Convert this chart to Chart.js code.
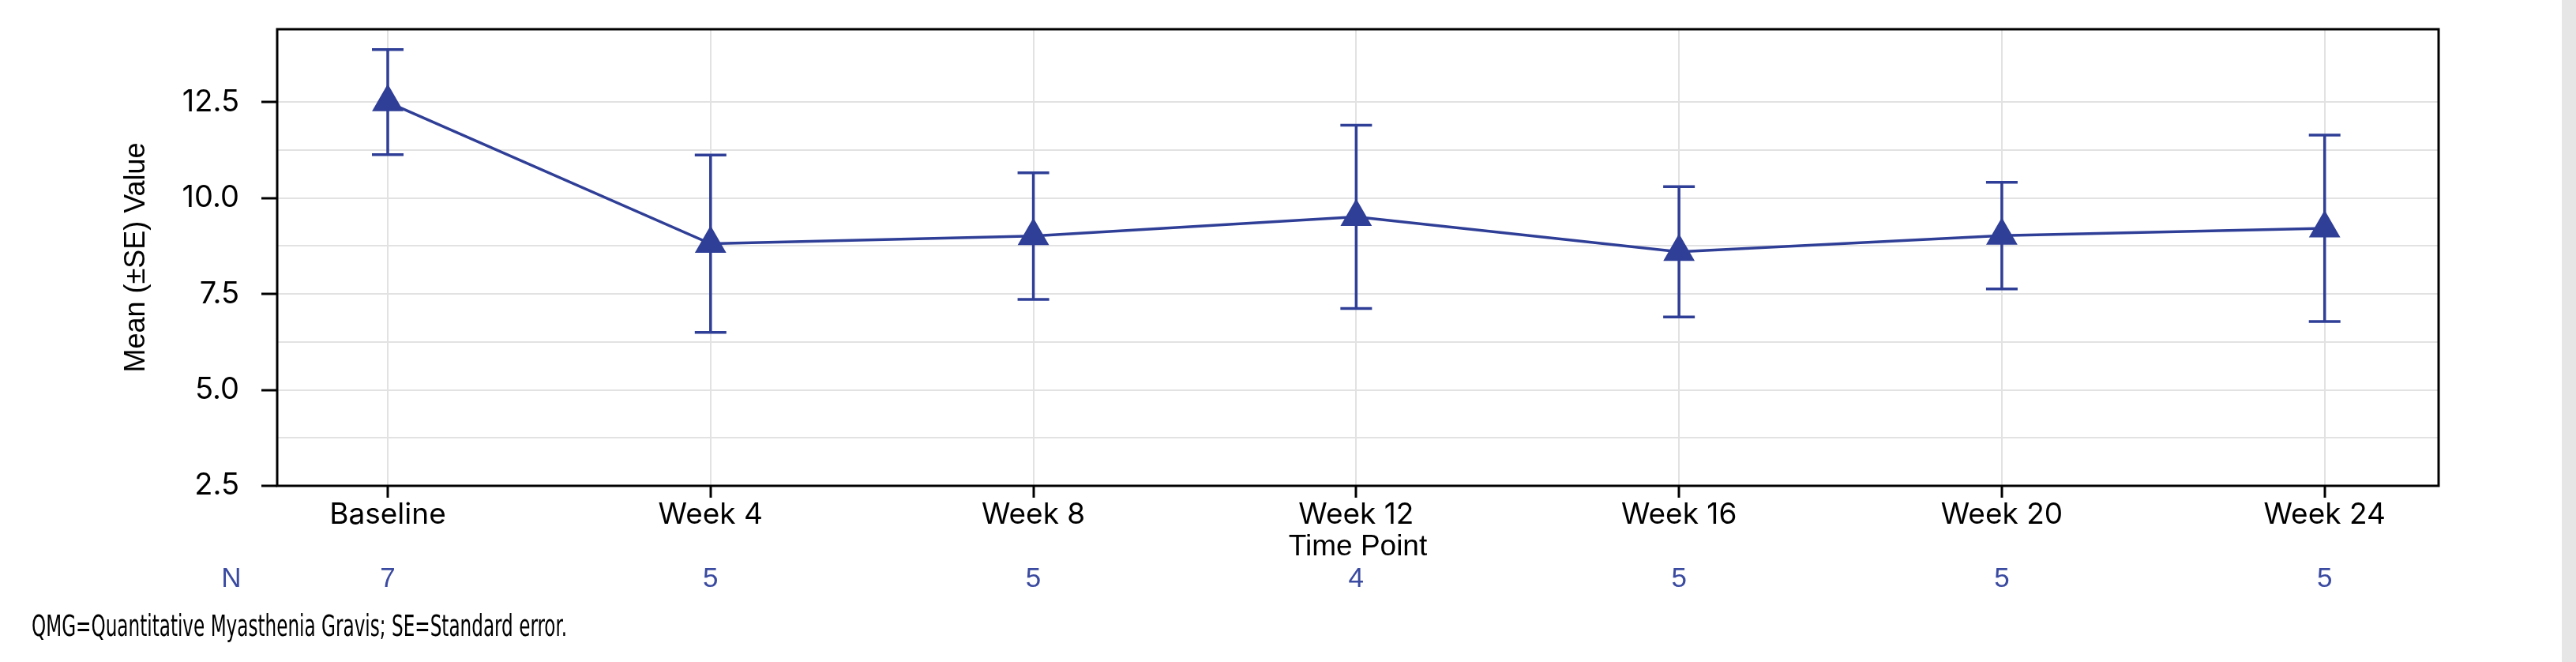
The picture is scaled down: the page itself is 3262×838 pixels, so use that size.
<!DOCTYPE html>
<html>
<head>
<meta charset="utf-8">
<title>Mean (±SE) Value by Time Point</title>
<script src="https://cdn.jsdelivr.net/npm/chart.js@4.4.1/dist/chart.umd.min.js"></script>
<style>
    html, body { margin: 0; padding: 0; background: #ffffff; }
    #wrap { position: relative; width: 3244px; height: 838px; }
    #strip { position: absolute; left: 3244px; top: 0; width: 18px; height: 838px; background: #e6e6e6; }
</style>
</head>
<body>
<div id="wrap"><canvas id="meanChart"></canvas></div>
<div id="strip"></div>
<script>
// data
const timePoints = ['Baseline', 'Week 4', 'Week 8', 'Week 12', 'Week 16', 'Week 20', 'Week 24'];
const meanValues = [12.5, 8.81, 9.01, 9.51, 8.6, 9.02, 9.21];
const seValues = [1.37, 2.31, 1.65, 2.39, 1.7, 1.39, 2.43];
const nCounts = [7, 5, 5, 4, 5, 5, 5];
const yTickLabels = [2.5, 5.0, 7.5, 10.0, 12.5];
const footnote = 'QMG=Quantitative Myasthenia Gravis; SE=Standard error.';

const blue = '#2f3e96';
const nBlue = '#3a4aa0';
const gridGray = '#e2e2e2';
const font = "'Liberation Sans', Arial, sans-serif";
const tickFont = "Inter, 'Liberation Sans', sans-serif";

// error bars (±SE), drawn through the chart's scales
const errorBars = {
    id: 'errorBars',
    beforeDatasetsDraw(chart) {
        const { ctx, scales: { x, y } } = chart;
        ctx.save();
        ctx.strokeStyle = blue;
        ctx.lineWidth = 3.5;
        meanValues.forEach((m, i) => {
            const px = x.getPixelForValue(i);
            const top = y.getPixelForValue(m + seValues[i]);
            const bot = y.getPixelForValue(m - seValues[i]);
            ctx.beginPath();
            ctx.moveTo(px, top);
            ctx.lineTo(px, bot);
            ctx.moveTo(px - 20, top);
            ctx.lineTo(px + 20, top);
            ctx.moveTo(px - 20, bot);
            ctx.lineTo(px + 20, bot);
            ctx.stroke();
        });
        ctx.restore();
    }
};

// plot frame, N row and footnote
const extras = {
    id: 'extras',
    afterDraw(chart) {
        const { ctx, chartArea: a, scales: { x } } = chart;
        ctx.save();
        ctx.strokeStyle = '#000000';
        ctx.lineWidth = 3;
        ctx.strokeRect(a.left, a.top, a.right - a.left, a.bottom - a.top);

        ctx.fillStyle = nBlue;
        ctx.font = '35px ' + font;
        ctx.textAlign = 'center';
        ctx.textBaseline = 'alphabetic';
        ctx.fillText('N', 293, 743);
        nCounts.forEach((n, i) => {
            ctx.fillText(String(n), x.getPixelForValue(i), 743);
        });

        ctx.fillStyle = '#000000';
        ctx.font = "37px 'Liberation Sans Narrow', 'DejaVu Sans Condensed', sans-serif";
        ctx.textAlign = 'left';
        const w = ctx.measureText(footnote).width;
        ctx.translate(40, 805);
        ctx.scale(678 / w, 1);
        ctx.fillText(footnote, 0, 0);
        ctx.restore();
    }
};

// Chart.js
let meanContext = document.getElementById('meanChart');

let meanChart = new Chart(meanContext, {
    type: 'line',
    data: {
        datasets: [{
            data: meanValues.map((m, i) => ({ x: i, y: m })),
            borderColor: blue,
            backgroundColor: blue,
            borderWidth: 3.5,
            pointStyle: 'triangle',
            pointRadius: 23,
            pointBorderWidth: 0,
            tension: 0
        }]
    },
    options: {
        responsive: true,
        maintainAspectRatio: false,
        animation: false,
        layout: { padding: { top: 37, right: 156, bottom: 123, left: 0 } },
        plugins: {
            legend: { display: false },
            tooltip: { enabled: false }
        },
        scales: {
            x: {
                type: 'linear',
                min: -0.3425,
                max: 6.353,
                afterBuildTicks: axis => {
                    axis.ticks = timePoints.map((_, i) => ({ value: i }));
                },
                afterFit: axis => { axis.height = 100; },
                border: { display: false },
                grid: {
                    color: gridGray,
                    lineWidth: 2,
                    tickLength: 15,
                    tickColor: '#000000',
                    tickWidth: 3
                },
                ticks: {
                    autoSkip: false,
                    maxRotation: 0,
                    padding: 0,
                    color: '#000000',
                    font: { family: tickFont, size: 37 },
                    callback: v => timePoints[v]
                },
                title: {
                    display: true,
                    text: 'Time Point',
                    color: '#000000',
                    font: { family: font, size: 37 },
                    padding: { top: 0, bottom: 0 }
                }
            },
            y: {
                min: 2.5,
                max: 14.4,
                afterFit: axis => {
                    axis.width = 351;
                    axis.paddingTop = 0;
                    axis.paddingBottom = 0;
                },
                border: { display: false },
                grid: {
                    color: gridGray,
                    lineWidth: 2,
                    tickLength: 20,
                    tickWidth: 3,
                    tickColor: c => yTickLabels.includes(c.tick.value) ? '#000000' : 'rgba(0,0,0,0)'
                },
                ticks: {
                    stepSize: 1.25,
                    padding: 28,
                    color: '#000000',
                    font: { family: tickFont, size: 38 },
                    callback: v => yTickLabels.includes(v) ? v.toFixed(1) : ''
                },
                title: {
                    display: true,
                    text: 'Mean (±SE) Value',
                    color: '#000000',
                    font: { family: font, size: 36 },
                    padding: { top: 151, bottom: 0 }
                }
            }
        }
    },
    plugins: [errorBars, extras]
});
</script>
</body>
</html>
